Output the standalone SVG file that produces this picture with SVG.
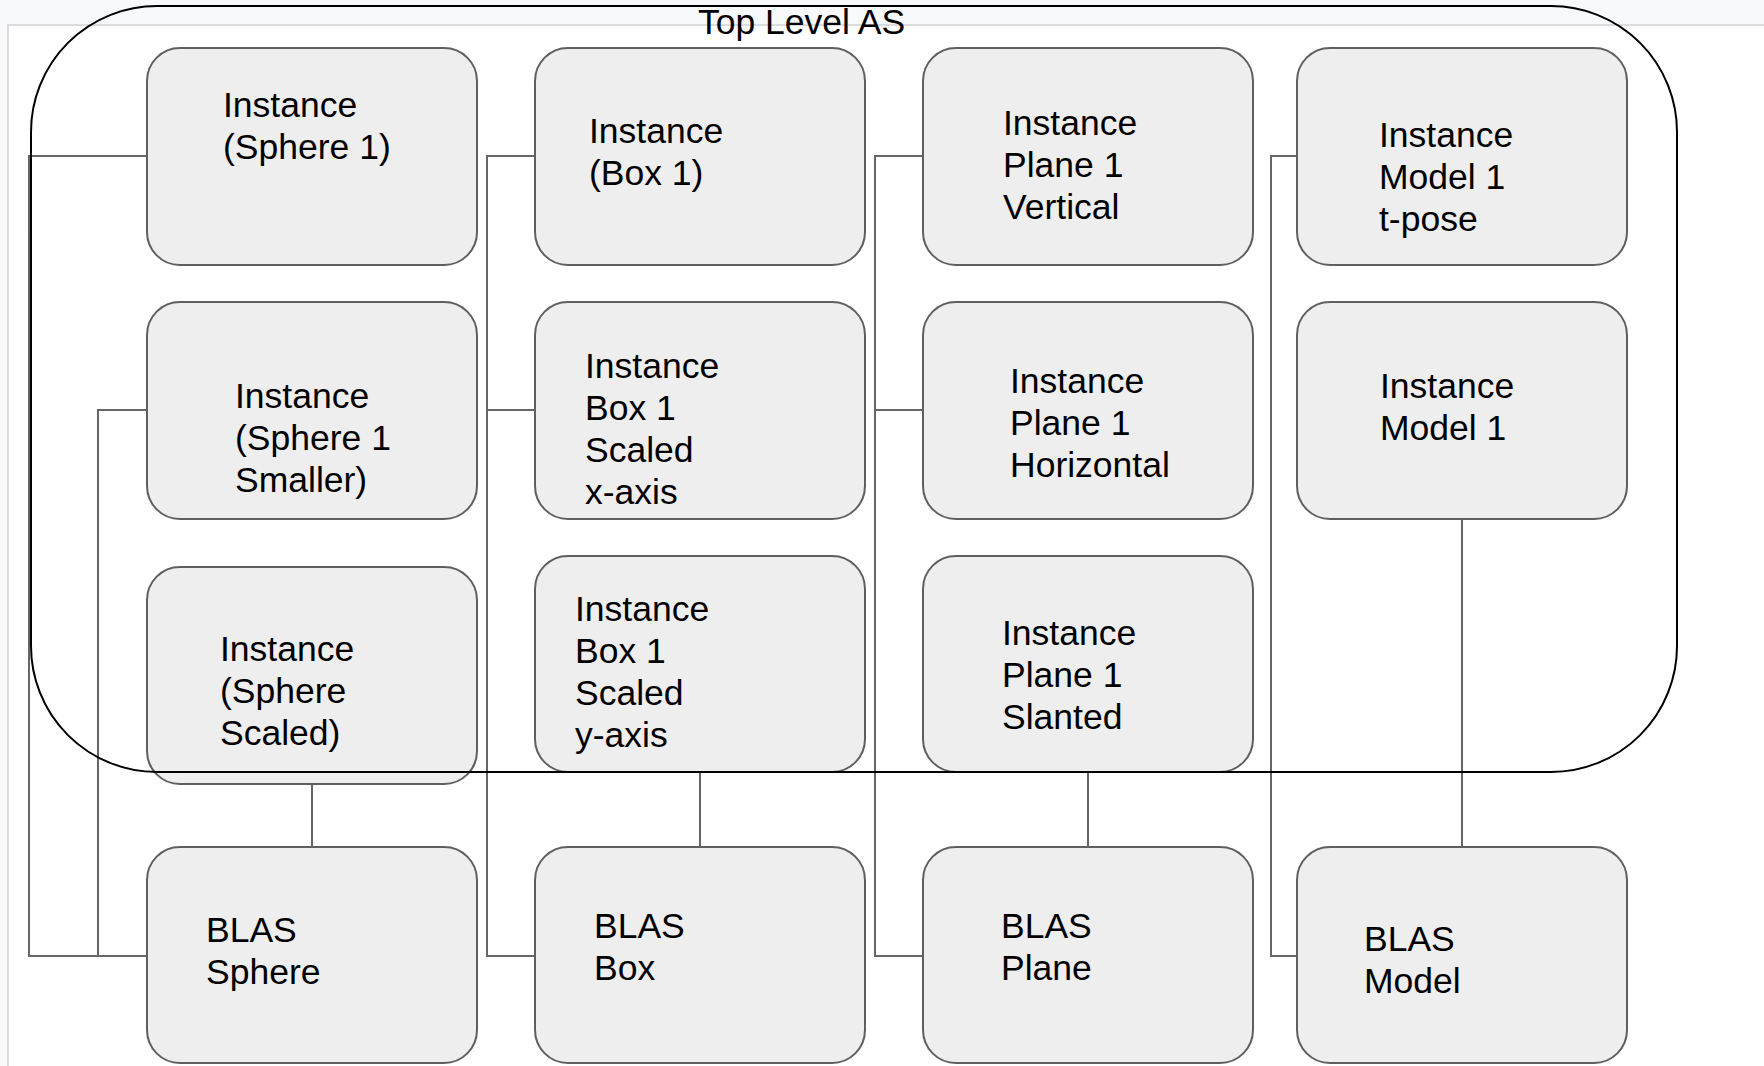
<svg xmlns="http://www.w3.org/2000/svg" width="1764" height="1066" viewBox="0 0 1764 1066">
<style>
.node rect{fill:#eeeeee;stroke:#5f5f5f;stroke-width:2}
.node text,.title{font-family:"Liberation Sans",Arial,sans-serif;font-size:35.5px;fill:#000}
.conn path{fill:none;stroke:#666666;stroke-width:2}
</style>
<rect x="0" y="0" width="1764" height="1066" fill="#f8f9fa"/>
<rect x="8" y="25" width="1800" height="1100" fill="#ffffff" stroke="#dadce0" stroke-width="2"/>
<g class="conn" id="connectors">
<path d="M147,156 H29 V956 H147"/>
<path d="M147,410 H98 V956"/>
<path d="M312,784 V847"/>
<path d="M535,156 H487 V956 H535"/>
<path d="M535,410 H487"/>
<path d="M700,772 V847"/>
<path d="M923,156 H875 V956 H923"/>
<path d="M923,410 H875"/>
<path d="M1088,772 V847"/>
<path d="M1297,156 H1271 V956 H1297"/>
<path d="M1462,519 V847"/>
</g>
<g class="node" id="inst-sphere1"><rect x="147" y="48" width="330" height="217" rx="33"/><text x="223" y="117">Instance</text><text x="223" y="159">(Sphere 1)</text></g>
<g class="node" id="inst-box1"><rect x="535" y="48" width="330" height="217" rx="33"/><text x="589" y="143">Instance</text><text x="589" y="185">(Box 1)</text></g>
<g class="node" id="inst-plane-vert"><rect x="923" y="48" width="330" height="217" rx="33"/><text x="1003" y="135">Instance</text><text x="1003" y="177">Plane 1</text><text x="1003" y="219">Vertical</text></g>
<g class="node" id="inst-model-tpose"><rect x="1297" y="48" width="330" height="217" rx="33"/><text x="1379" y="147">Instance</text><text x="1379" y="189">Model 1</text><text x="1379" y="231">t-pose</text></g>
<g class="node" id="inst-sphere-small"><rect x="147" y="302" width="330" height="217" rx="33"/><text x="235" y="408">Instance</text><text x="235" y="450">(Sphere 1</text><text x="235" y="492">Smaller)</text></g>
<g class="node" id="inst-box-x"><rect x="535" y="302" width="330" height="217" rx="33"/><text x="585" y="378">Instance</text><text x="585" y="420">Box 1</text><text x="585" y="462">Scaled</text><text x="585" y="504">x-axis</text></g>
<g class="node" id="inst-plane-hor"><rect x="923" y="302" width="330" height="217" rx="33"/><text x="1010" y="393">Instance</text><text x="1010" y="435">Plane 1</text><text x="1010" y="477">Horizontal</text></g>
<g class="node" id="inst-model"><rect x="1297" y="302" width="330" height="217" rx="33"/><text x="1380" y="398">Instance</text><text x="1380" y="440">Model 1</text></g>
<g class="node" id="inst-sphere-scaled"><rect x="147" y="567" width="330" height="217" rx="33"/><text x="220" y="661">Instance</text><text x="220" y="703">(Sphere</text><text x="220" y="745">Scaled)</text></g>
<g class="node" id="inst-box-y"><rect x="535" y="556" width="330" height="216" rx="33"/><text x="575" y="621">Instance</text><text x="575" y="663">Box 1</text><text x="575" y="705">Scaled</text><text x="575" y="747">y-axis</text></g>
<g class="node" id="inst-plane-slant"><rect x="923" y="556" width="330" height="216" rx="33"/><text x="1002" y="645">Instance</text><text x="1002" y="687">Plane 1</text><text x="1002" y="729">Slanted</text></g>
<g class="node" id="blas-sphere"><rect x="147" y="847" width="330" height="216" rx="33"/><text x="206" y="942">BLAS</text><text x="206" y="984">Sphere</text></g>
<g class="node" id="blas-box"><rect x="535" y="847" width="330" height="216" rx="33"/><text x="594" y="938">BLAS</text><text x="594" y="980">Box</text></g>
<g class="node" id="blas-plane"><rect x="923" y="847" width="330" height="216" rx="33"/><text x="1001" y="938">BLAS</text><text x="1001" y="980">Plane</text></g>
<g class="node" id="blas-model"><rect x="1297" y="847" width="330" height="216" rx="33"/><text x="1364" y="951">BLAS</text><text x="1364" y="993">Model</text></g>
<g id="top-level-as">
<rect x="31" y="6" width="1646" height="766" rx="126" fill="none" stroke="#000" stroke-width="2"/>
<text class="title" x="698" y="34">Top Level AS</text>
</g>
</svg>
